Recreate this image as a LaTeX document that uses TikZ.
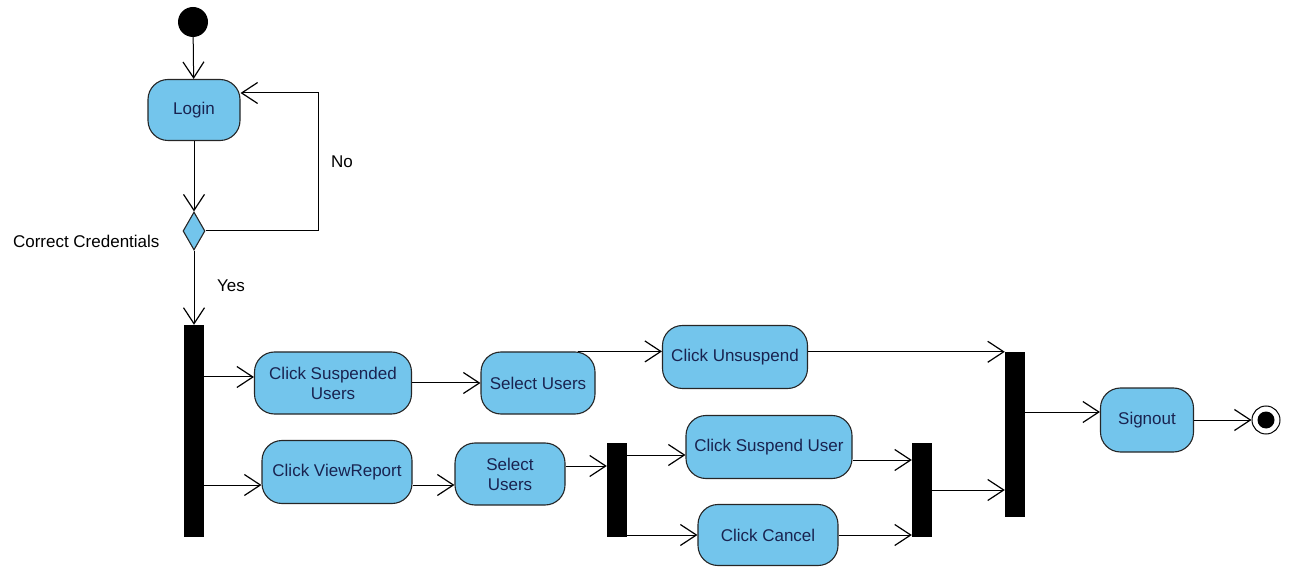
\documentclass[tikz,border=0pt]{standalone}
\usepackage{fontspec}
\setmainfont{Liberation Sans}
\usetikzlibrary{arrows.meta,shapes.geometric}
\definecolor{actfill}{RGB}{115,197,236}
\definecolor{acttext}{RGB}{25,35,80}
\tikzset{
  action/.style={draw=black!85, fill=actfill, rounded corners=20pt, line width=1.1pt,
    text=acttext, align=center, font=\fontsize{17}{20}\selectfont, inner sep=2pt},
  syncbar/.style={fill=black, minimum width=20pt, inner sep=0pt},
  flow/.style={-{Straight Barb[length=16pt,width=21pt,line width=1.2pt]}, line width=1pt},
  lbl/.style={font=\fontsize{17}{20}\selectfont}
}
\begin{document}
\begin{tikzpicture}[x=1pt, y=-1pt]
      \useasboundingbox (0,0) rectangle (1291,569);
      % start, login and the credentials check
      \node[circle, fill=black, minimum size=30, inner sep=0pt] (start) at (193,22) {};
      \node[action, minimum width=92, minimum height=61] (login) at (194,110) {Login};
      \node[diamond, draw=black!85, fill=actfill, line width=1.1pt, minimum width=22, minimum height=38, inner sep=0pt] (check) at (194,231) {};
      \node[lbl, anchor=east] (checklbl) at (163,241) {Correct Credentials};
      \node[lbl] (nolbl) at (342,162) {No};
      \node[lbl] (yeslbl) at (231,286) {Yes};
      \coordinate (retry) at (318,93);
      % fork into the two branches
      \node[syncbar, minimum height=212] (fork) at (194,431) {};
      \node[action, minimum width=157, minimum height=62] (clicksusp) at (333,383) {Click Suspended\\Users};
      \node[action, minimum width=114, minimum height=62] (selone) at (538,383) {Select Users};
      \node[action, minimum width=145, minimum height=63] (unsusp) at (735,357) {Click Unsuspend};
      \node[action, minimum width=150, minimum height=63] (viewrep) at (337,472) {Click ViewReport};
      \node[action, minimum width=110, minimum height=62] (seltwo) at (510,474) {Select\\Users};
      \node[syncbar, minimum height=94] (forktwo) at (617,490) {};
      \node[action, minimum width=166, minimum height=63] (suspuser) at (769,447) {Click Suspend User};
      \node[action, minimum width=140, minimum height=61] (cancel) at (768,535) {Click Cancel};
      \node[syncbar, minimum height=94] (jointwo) at (922,490) {};
      \node[syncbar, minimum height=165] (join) at (1015,434.5) {};
      \node[action, minimum width=93, minimum height=64] (signout) at (1147,420) {Signout};
      \node[circle, draw=black, line width=1pt, minimum size=28, inner sep=0pt] (stop) at (1266,420) {};
      \fill (stop) circle (8.5);

      % exit points of the branch transitions
      \coordinate (viewout) at ([yshift=-13]viewrep.east);
      \coordinate (selout) at ([yshift=8]seltwo.east);
      \coordinate (suspout) at ([yshift=-13]suspuser.east);

      % transitions
      \draw[flow] (start) -- (login);
      \draw[flow] (login) -- (check);
      \draw[flow] (check.east) -| (retry) -- (login.east |- retry);
      \draw[flow] (check) -- (fork.north);
      \draw[flow] ([yshift=6]fork.east |- clicksusp) -- ([yshift=6]clicksusp.west);
      \draw[flow] ([yshift=-13]fork.east |- viewrep) -- ([yshift=-13]viewrep.west);
      \draw[flow] (clicksusp) -- (selone);
      \draw[flow] ([xshift=-18]selone.north east) -- (unsusp.west |- selone.north);
      \draw[flow] (unsusp.east |- join.north) -- (join.north west);
      \draw[flow] (viewout) -- (seltwo.west |- viewout);
      \draw[flow] (selout) -- (forktwo.west |- selout);
      \draw[flow] ([yshift=-8]forktwo.east |- suspuser) -- ([yshift=-8]suspuser.west);
      \draw[flow] (forktwo.east |- cancel) -- (cancel.west);
      \draw[flow] (suspout) -- (jointwo.west |- suspout);
      \draw[flow] (cancel.east) -- (jointwo.west |- cancel.east);
      \draw[flow] (jointwo.east) -- (join.west |- jointwo.east);
      \draw[flow] ([yshift=8]join.east |- signout) -- ([yshift=8]signout.west);
      \draw[flow] (signout) -- (stop);
\end{tikzpicture}
\end{document}
